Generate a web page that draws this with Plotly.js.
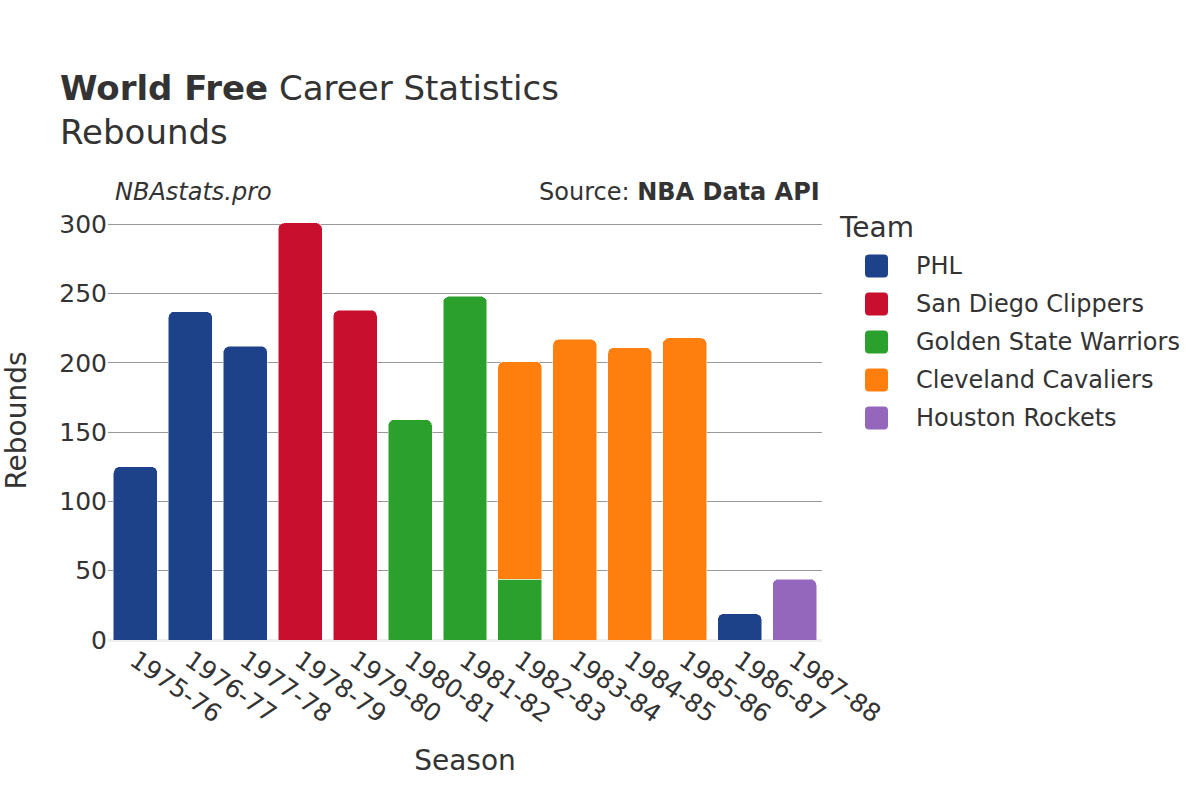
<!DOCTYPE html>
<html>
<head>
<meta charset="utf-8">
<script src="https://cdn.plot.ly/plotly-3.0.1.min.js"></script>
<style>html,body{margin:0;padding:0;background:#fff;}</style>
</head>
<body>
<div id="chart" style="width:1200px;height:800px;"></div>
<script>
const seasons = ["1975-76","1976-77","1977-78","1978-79","1979-80","1980-81","1981-82","1982-83","1983-84","1984-85","1985-86","1986-87","1987-88"];
const teams = ["PHL","San Diego Clippers","Golden State Warriors","Cleveland Cavaliers","Houston Rockets"];
const colors = ["#1d428a","#c8102e","#2ca02c","#ff7f0e","#9467bd"];
const phlSeasons = ["1975-76","1976-77","1977-78","1986-87"];
const phlValues = [125, 237, 212, 19];
const sdcSeasons = ["1978-79","1979-80"];
const sdcValues = [301, 238];
const gswSeasons = ["1980-81","1981-82","1982-83"];
const gswValues = [159, 248, 44];
const cleSeasons = ["1982-83","1983-84","1984-85","1985-86"];
const cleValues = [157, 217, 211, 218];
const houSeasons = ["1987-88"];
const houValues = [44];

const xs = [phlSeasons, sdcSeasons, gswSeasons, cleSeasons, houSeasons];
const ys = [phlValues, sdcValues, gswValues, cleValues, houValues];

const W = 1200, H = 800;
const M = {l: 108, r: 378, t: 201, b: 160};
const PW = W - M.l - M.r, PH = H - M.t - M.b;
const px2x = p => (p - M.l) / PW;
const py2y = p => (H - M.b - p) / PH;

const font = "DejaVu Sans, Verdana, sans-serif";
const traces = teams.map((t, i) => ({
  type: "bar",
  name: t,
  x: xs[i],
  y: ys[i],
  showlegend: false,
  marker: {color: colors[i], cornerradius: 6, line: {color: "rgba(255,255,255,0.5)", width: 1}},
}));

// custom legend (larger rounded swatches)
const legendShapes = [];
const legendAnns = [{
  text: "Team", xref: "paper", yref: "paper", x: px2x(837), y: py2y(227),
  xanchor: "left", yanchor: "middle", showarrow: false, font: {size: 28, color: "#333"}
}];
teams.forEach((t, i) => {
  const cy = 266 + 38 * i, cx = 876.5, h = 11.5, r = 4;
  const X = p => px2x(p), Y = p => py2y(p);
  const x0 = cx - h, x1 = cx + h, y0 = cy - h, y1 = cy + h;
  const path = `M${X(x0 + r)},${Y(y0)} L${X(x1 - r)},${Y(y0)} Q${X(x1)},${Y(y0)} ${X(x1)},${Y(y0 + r)} ` +
    `L${X(x1)},${Y(y1 - r)} Q${X(x1)},${Y(y1)} ${X(x1 - r)},${Y(y1)} L${X(x0 + r)},${Y(y1)} ` +
    `Q${X(x0)},${Y(y1)} ${X(x0)},${Y(y1 - r)} L${X(x0)},${Y(y0 + r)} Q${X(x0)},${Y(y0)} ${X(x0 + r)},${Y(y0)} Z`;
  legendShapes.push({type: "path", xref: "paper", yref: "paper", path: path,
    fillcolor: colors[i], line: {width: 0}, layer: "above"});
  legendAnns.push({text: t, xref: "paper", yref: "paper", x: px2x(914), y: py2y(cy),
    xanchor: "left", yanchor: "middle", showarrow: false, font: {size: 24, color: "#333"}});
});

const layout = {
  width: W, height: H,
  barmode: "stack",
  bargap: 0.2,
  font: {family: font, color: "#333", size: 24},
  paper_bgcolor: "#fff",
  plot_bgcolor: "#fff",
  margin: M,
  showlegend: false,
  title: {
    text: "<b>World Free</b> Career Statistics<br>Rebounds",
    x: 0.05, xanchor: "left", y: 0.875, yanchor: "top",
    font: {family: font, size: 34, color: "#333"}
  },
  xaxis: {
    type: "category",
    categoryorder: "array",
    categoryarray: seasons,
    tickangle: 35,
    tickfont: {size: 25},
    title: {text: "Season", font: {size: 28}, standoff: 22},
    showgrid: false,
  },
  yaxis: {
    title: {text: "Rebounds", font: {size: 28}, standoff: 30},
    tickfont: {size: 25},
    gridcolor: "#999",
    gridwidth: 1,
    zeroline: true,
    zerolinecolor: "#eee",
    zerolinewidth: 3,
    dtick: 50,
  },
  shapes: legendShapes,
  annotations: [
    {text: "<i>NBAstats.pro</i>", xref: "paper", yref: "paper", x: 0.007, y: 1.0, yshift: -7, xanchor: "left", yanchor: "bottom", showarrow: false, font: {size: 24, color: "#333"}},
    {text: "Source: <b>NBA Data API</b>", xref: "paper", yref: "paper", x: 1, y: 1.0, yshift: -7, xanchor: "right", yanchor: "bottom", showarrow: false, font: {size: 24, color: "#333"}}
  ].concat(legendAnns),
};

Plotly.newPlot("chart", traces, layout, {displayModeBar: false});
</script>
</body>
</html>
